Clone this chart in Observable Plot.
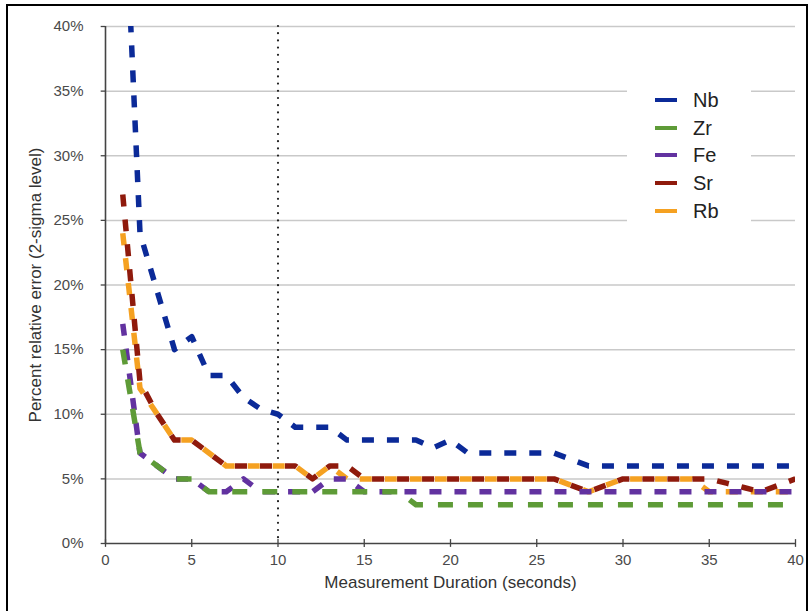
<!DOCTYPE html>
<html>
<head>
<meta charset="utf-8">
<script src="https://cdn.jsdelivr.net/npm/d3@7"></script>
<script src="https://cdn.jsdelivr.net/npm/@observablehq/plot@0.6"></script>
<style>
  body { margin: 0; background: #fff; }
  #wrap { position: relative; width: 812px; height: 611px; overflow: hidden;
          font-family: "Liberation Sans", Arial, Helvetica, sans-serif; }
  #chart svg { display: block; }
  #frame { position: absolute; left: 6px; top: 4px; width: 798px; height: 640px;
           border: 2.5px solid #000; pointer-events: none; }
  #legend { position: absolute; left: 627px; top: 86px; width: 124px; height: 138px; background: #fff; }
  .item { position: absolute; left: 0; width: 124px; height: 28px; }
  .sw { position: absolute; left: 28px; top: 12px; width: 22px; height: 3.5px; }
  .lb { position: absolute; left: 66px; top: 0; line-height: 28px; font-size: 20px; color: #222; }
</style>
</head>
<body>
<div id="wrap">
  <div id="chart"></div>
  <div id="legend"></div>
  <div id="frame"></div>
</div>
<script>
// ---- data (percent relative error, 2-sigma) ----
const seconds = d3.range(1, 41);
const elements = ["Nb", "Zr", "Fe", "Sr", "Rb"];
const colors = ["#0b2a98", "#5e9b37", "#6232a0", "#8f1a0c", "#f5a121"];
const nb = [54, 24, 19.5, 15, 16, 13, 13, 11.3, 10.4, 10, 9, 9, 9, 8, 8, 8, 8, 8, 7.4, 8,
            7, 7, 7, 7, 7, 7, 6.5, 6, 6, 6, 6, 6, 6, 6, 6, 6, 6, 6, 6, 6];
const zr = [15, 7, 6, 5, 5, 4, 4, 4, 4, 4, 4, 4, 4, 4, 4, 4, 4, 3, 3, 3,
            3, 3, 3, 3, 3, 3, 3, 3, 3, 3, 3, 3, 3, 3, 3, 3, 3, 3, 3, 3];
const fe = [17, 7, 6, 5, 5, 4, 4, 5, 4, 4, 4, 4, 5, 5, 4, 4, 4, 4, 4, 4,
            4, 4, 4, 4, 4, 4, 4, 4, 4, 4, 4, 4, 4, 4, 4, 4, 4, 4, 4, 4];
const sr = [27, 12.5, 10, 8, 8, 7, 6, 6, 6, 6, 6, 5, 6, 6, 5, 5, 5, 5, 5, 5,
            5, 5, 5, 5, 5, 5, 4.5, 4, 4.5, 5, 5, 5, 5, 5, 5, 4.67, 4.33, 4, 4.5, 5];
const rb = [24, 12, 10, 8, 8, 7, 6, 6, 6, 6, 6, 5, 6, 5, 5, 5, 5, 5, 5, 5,
            5, 5, 5, 5, 5, 5, 4.5, 4, 4.5, 5, 5, 5, 5, 5, 4, 4, 4, 4, 4, 4];
const xTicks = [0, 5, 10, 15, 20, 25, 30, 35, 40];
const yTicks = [0, 5, 10, 15, 20, 25, 30, 35, 40];
const markerLine = [10];
const xTitle = "Measurement Duration (seconds)";
const yTitle = "Percent relative error (2-sigma level)";

const valuesBy = {Nb: nb, Zr: zr, Fe: fe, Sr: sr, Rb: rb};
const colorBy = Object.fromEntries(elements.map((e, i) => [e, colors[i]]));
const dashBy = {Nb: "12,13", Zr: "15,15", Fe: "12,13", Sr: "12,13", Rb: "12,13"};
const rows = elements.flatMap(e => valuesBy[e].map((v, i) => ({t: seconds[i], v, el: e})));

const drawOrder = ["Rb", "Sr", "Fe", "Zr", "Nb"];
const lineMarks = drawOrder.map(e => Plot.line(rows.filter(d => d.el === e), {
  x: "t", y: "v", stroke: colorBy[e], strokeWidth: 5.5,
  strokeDasharray: dashBy[e], strokeLinecap: "butt", strokeLinejoin: "round", clip: true
}));

const chart = Plot.plot({
  width: 812, height: 611,
  marginLeft: 105, marginRight: 17, marginTop: 26, marginBottom: 68,
  style: {fontSize: "15px", fontFamily: "'Liberation Sans', Arial, Helvetica, sans-serif",
          color: "#4a4a4a", background: "transparent", overflow: "visible"},
  x: {domain: [0, 40], ticks: 8, tickSize: 0, tickPadding: 11, tickFormat: d => String(d), label: null},
  y: {domain: [0, 40], ticks: 8, tickSize: 0, tickPadding: 22, tickFormat: d => d + "%", label: null},
  marks: [
    Plot.ruleY(yTicks.filter(d => d > 0), {stroke: "#c9c9c9", strokeWidth: 1.5}),
    Plot.ruleX(markerLine, {stroke: "#222", strokeWidth: 2.2, strokeDasharray: "0,7.2", strokeLinecap: "round"}),
    Plot.ruleY(yTicks, {x1: -0.25, x2: 0, stroke: "#444", strokeWidth: 1.3}),
    Plot.ruleX(xTicks, {y1: -0.3, y2: 0.3, stroke: "#444", strokeWidth: 1.3}),
    Plot.ruleX([0], {stroke: "#444", strokeWidth: 1.6}),
    Plot.ruleY([0], {stroke: "#444", strokeWidth: 1.6}),
    ...lineMarks,
    Plot.text([yTitle], {text: d => d, frameAnchor: "left", dx: -70, rotate: -90,
                         textAnchor: "middle", lineAnchor: "middle",
                         fontSize: 17, fill: "#333"}),
    Plot.text([xTitle], {text: d => d, frameAnchor: "bottom", dy: 39,
                         textAnchor: "middle", lineAnchor: "middle",
                         fontSize: 17, fill: "#333"})
  ]
});
document.getElementById("chart").appendChild(chart);

// legend
const legend = document.getElementById("legend");
const rowTops = [0, 28, 55, 83, 111];
elements.forEach((e, i) => {
  const it = document.createElement("div");
  it.className = "item";
  it.style.top = rowTops[i] + "px";
  const sw = document.createElement("div");
  sw.className = "sw";
  sw.style.background = colorBy[e];
  const lb = document.createElement("div");
  lb.className = "lb";
  lb.textContent = e;
  it.appendChild(sw); it.appendChild(lb);
  legend.appendChild(it);
});
</script>
</body>
</html>
